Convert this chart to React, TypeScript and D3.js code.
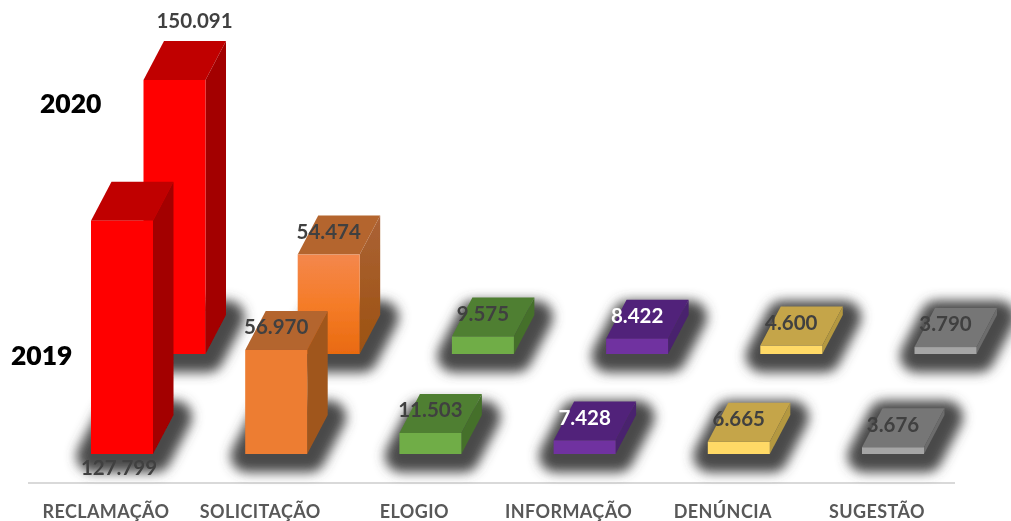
import React from "react";
import * as d3 from "d3";

const categories = ["RECLAMAÇÃO", "SOLICITAÇÃO", "ELOGIO", "INFORMAÇÃO", "DENÚNCIA", "SUGESTÃO"];
const values2019 = [127799, 56970, 11503, 7428, 6665, 3676];
const values2020 = [150091, 54474, 9575, 8422, 4600, 3790];
const labels2019 = ["127.799", "56.970", "11.503", "7.428", "6.665", "3.676"];
const labels2020 = ["150.091", "54.474", "9.575", "8.422", "4.600", "3.790"];
const frontColors = ["#ff0000", "#ed7d31", "#70ad47", "#7030a0", "#ffd966", "#a5a5a5"];
const topColors = ["#c00000", "#b4652f", "#4f7f32", "#51217a", "#c5a548", "#767676"];
const sideColors = ["#a30000", "#a0561f", "#44702b", "#48206e", "#b49840", "#6c6c6c"];
const labelColors = ["#404040", "#404040", "#404040", "#ffffff", "#404040", "#404040"];

const BAR_W = 62;
const DX = 20.5;
const DY = 39;
const BASE_2019 = 454;
const BASE_2020 = 354;
const ROW_SHIFT = 52.5;

const xScale = d3.scaleLinear().domain([0, 5]).range([91, 862]);
const hScale = d3.scaleLinear().domain([0, 150091]).range([0, 274]);
const poly = d3.line<[number, number]>().curve(d3.curveLinearClosed);
const font = "Lato, Carlito, 'Open Sans', sans-serif";

function Row({ values, base, shift, gradientFirst }: { values: number[]; base: number; shift: number; gradientFirst: boolean }) {
  return (
    <g>
      {values.map((_, i) => {
        const x = xScale(i) + shift + 2;
        const b = base + 2;
        return (
          <path
            key={i}
            d={poly([[x, b], [x + BAR_W, b], [x + BAR_W + DX, b - DY], [x + DX, b - DY]]) as string}
            fill="#4a4a4a"
            stroke="#4a4a4a"
            strokeWidth={33}
            strokeLinejoin="round"
            filter="url(#shadowBlur)"
          />
        );
      })}
      {values.map((v, i) => {
        const x = xScale(i) + shift;
        const t = base - hScale(v);
        const orange = gradientFirst && i === 1;
        return (
          <g key={i}>
            <path
              d={poly([[x, t], [x + DX, t - DY], [x + BAR_W + DX, t - DY], [x + BAR_W, t]]) as string}
              fill={topColors[i]}
            />
            <path
              d={poly([[x + BAR_W, t], [x + BAR_W + DX, t - DY], [x + BAR_W + DX, base - DY], [x + BAR_W, base]]) as string}
              fill={orange ? "url(#orangeSide)" : sideColors[i]}
            />
            <rect x={x} y={t} width={BAR_W} height={base - t} fill={orange ? "url(#orangeFront)" : frontColors[i]} />
          </g>
        );
      })}
    </g>
  );
}

function ValueLabels({ values, labels, base, shift, first }: { values: number[]; labels: string[]; base: number; shift: number; first: [number, number] }) {
  return (
    <g fontFamily={font} fontSize={20.5} fontWeight={700} textAnchor="middle">
      {values.map((v, i) => {
        const x = xScale(i) + shift + BAR_W / 2;
        const t = base - hScale(v);
        const px = i === 0 ? x + first[0] : x;
        const py = i === 0 ? t + first[1] : t - 23;
        return (
          <text key={i} x={px} y={py} dy="0.36em" fill={labelColors[i]}>
            {labels[i]}
          </text>
        );
      })}
    </g>
  );
}

export default function App() {
  return (
    <svg width={1011} height={521} style={{ position: "absolute", left: 0, top: 0, background: "#fff" }}>
      <defs>
        <filter id="shadowBlur" filterUnits="userSpaceOnUse" x="0" y="0" width="1011" height="521">
          <feGaussianBlur stdDeviation={6} />
        </filter>
        <filter id="soft" x="0" y="0" width="1011" height="521" filterUnits="userSpaceOnUse">
          <feGaussianBlur stdDeviation={0.45} />
        </filter>
        <linearGradient id="orangeFront" x1="0" y1="0" x2="0" y2="1">
          <stop offset="0" stopColor="#f4874c" />
          <stop offset="0.5" stopColor="#f57c28" />
          <stop offset="1" stopColor="#e96a10" />
        </linearGradient>
        <linearGradient id="orangeSide" x1="0" y1="0" x2="0" y2="1">
          <stop offset="0" stopColor="#ab6236" />
          <stop offset="1" stopColor="#9c5210" />
        </linearGradient>
      </defs>
      <g filter="url(#soft)">
        <line x1={28} x2={955} y1={483} y2={483} stroke="#d9d9d9" strokeWidth={2} />
        <Row values={values2020} base={BASE_2020} shift={ROW_SHIFT} gradientFirst={true} />
        <Row values={values2019} base={BASE_2019} shift={0} gradientFirst={false} />
        <ValueLabels values={values2020} labels={labels2020} base={BASE_2020} shift={ROW_SHIFT} first={[20, -59]} />
        <ValueLabels values={values2019} labels={labels2019} base={BASE_2019} shift={0} first={[-3, 247]} />
        <g fontFamily={font} fontSize={18} fontWeight={700} fill="#595959" textAnchor="middle" letterSpacing={0.4}>
          {categories.map((c, i) => (
            <text key={c} x={xScale(i) + BAR_W / 2 - 16} y={518}>
              {c}
            </text>
          ))}
        </g>
        <g fontFamily={font} fontSize={26.5} fontWeight={800} fill="#000">
          <text x={40} y={113}>2020</text>
          <text x={11} y={365}>2019</text>
        </g>
      </g>
    </svg>
  );
}
